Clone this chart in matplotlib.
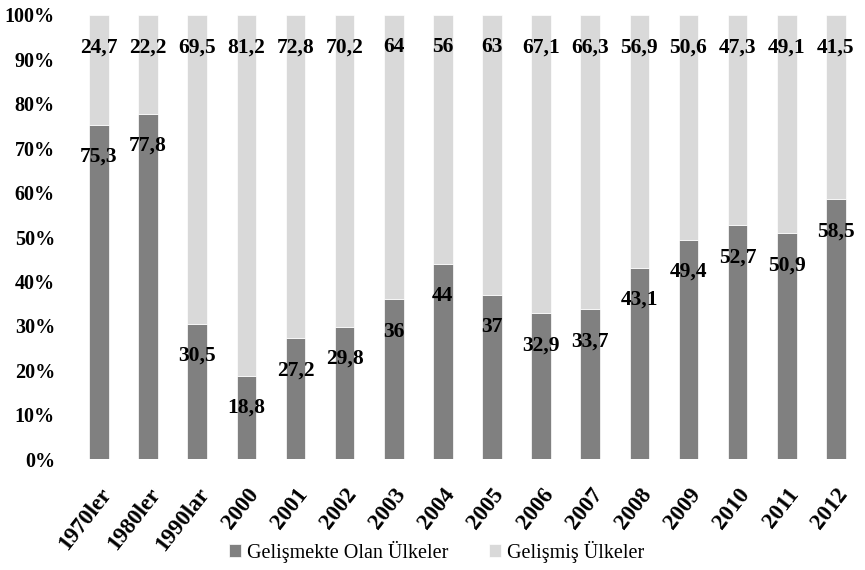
import matplotlib
matplotlib.use("Agg")
import matplotlib.pyplot as plt
import numpy as np
from matplotlib.ticker import FuncFormatter
from matplotlib.font_manager import FontProperties

categories = ['1970ler', '1980ler', '1990lar', '2000', '2001', '2002', '2003', '2004',
              '2005', '2006', '2007', '2008', '2009', '2010', '2011', '2012']
developing = [75.3, 77.8, 30.5, 18.8, 27.2, 29.8, 36, 44, 37, 32.9, 33.7, 43.1, 49.4, 52.7, 50.9, 58.5]
developed = [24.7, 22.2, 69.5, 81.2, 72.8, 70.2, 64, 56, 63, 67.1, 66.3, 56.9, 50.6, 47.3, 49.1, 41.5]
series_names = ['Gelişmekte Olan Ülkeler', 'Gelişmiş Ülkeler']
y_ticks = [0, 10, 20, 30, 40, 50, 60, 70, 80, 90, 100]

plt.rcParams['font.family'] = ['Liberation Serif', 'DejaVu Serif']

fig = plt.figure(figsize=(8.65, 5.70), dpi=100)
ax = fig.add_axes([0.086, 0.1947, 0.9087, 0.779])

x = np.arange(len(categories))
dev_arr = np.array(developing)
dvd_arr = np.array(developed)
b1 = ax.bar(x, dev_arr, width=0.4, color='#808080', edgecolor='white', linewidth=0.5,
            label=series_names[0])
b2 = ax.bar(x, dvd_arr, width=0.4, bottom=dev_arr, color='#d9d9d9', edgecolor='white',
            linewidth=0.5, label=series_names[1])

def fmt(v):
    return f"{v:g}".replace('.', ',')

for xi, v, t in zip(x, dev_arr, dev_arr):
    ax.annotate(fmt(v), (xi, t), xytext=(0, -23.3), textcoords='offset points',
                ha='center', va='center', fontsize=15.5, fontweight='bold', color='black')
for xi, v, t in zip(x, dvd_arr, dev_arr + dvd_arr):
    ax.annotate(fmt(v), (xi, t), xytext=(0, -23.3), textcoords='offset points',
                ha='center', va='center', fontsize=15.5, fontweight='bold', color='black')

ax.set_xlim(-0.5, len(categories) - 0.5)
ax.set_ylim(0, 100)
ax.set_yticks(y_ticks)
ax.yaxis.set_major_formatter(FuncFormatter(lambda v, p: f"{int(v)}%"))
ax.set_xticks(x)
ax.set_xticklabels(categories, rotation=52, ha='right', rotation_mode='anchor')
for lab in ax.get_xticklabels():
    lab.set_fontsize(16.5)
    lab.set_fontweight('bold')
for lab in ax.get_yticklabels():
    lab.set_fontsize(14.5)
    lab.set_fontweight('bold')
ax.tick_params(axis='y', length=0, pad=14)
ax.tick_params(axis='x', length=0, pad=18)
for s in ax.spines.values():
    s.set_visible(False)

leg = fig.legend(handles=[b1, b2], labels=series_names, loc='center',
                 bbox_to_anchor=(0.505, 0.032), ncol=2, frameon=False,
                 prop=FontProperties(family='Liberation Serif', size=14.5),
                 handlelength=0.6, handleheight=0.6, handletextpad=0.3, columnspacing=2.0)

fig.savefig('out.png', dpi=100)
